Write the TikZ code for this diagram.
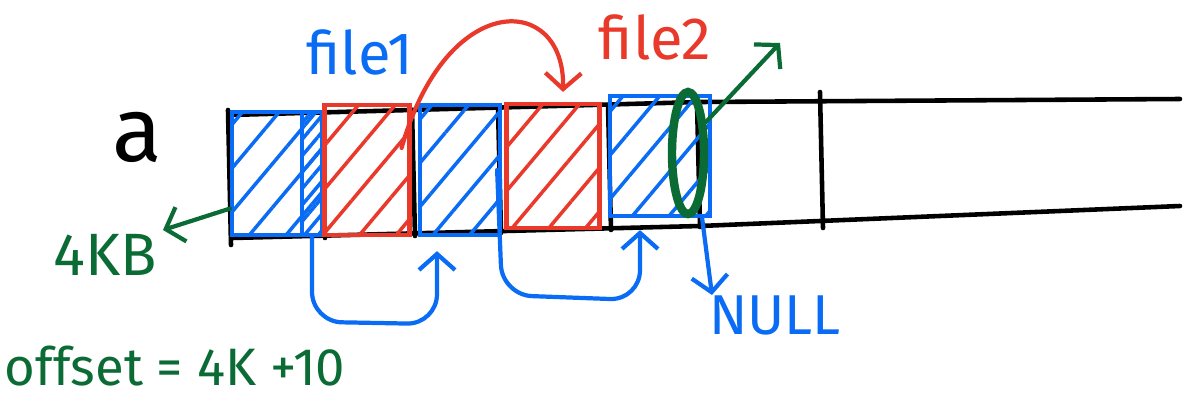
\documentclass[tikz,border=0pt]{standalone}
\usepackage{fontspec}
\setmainfont{Fira Sans}
\usetikzlibrary{arrows.meta,calc,patterns.meta,shapes.geometric}
\definecolor{Ink}{HTML}{000000}
\definecolor{Blue}{HTML}{0A6CF5}
\definecolor{Red}{HTML}{E8392B}
\definecolor{Green}{HTML}{0B6B35}

\begin{document}
\begin{tikzpicture}[
      blk/.style={draw=Blue,line width=1.2pt,inner sep=0pt,
        pattern={Lines[angle=50,distance=8pt,line width=1pt]},pattern color=Blue},
      redblk/.style={blk,draw=Red,pattern color=Red},
      link/.style={-{Straight Barb[length=1.6mm,width=3.6mm]},line width=1.2pt,
        line cap=round,line join=round},
      hand/.style={inner sep=0pt,font=\fontsize{17}{20}\selectfont}
    ]
      \useasboundingbox (0,0) rectangle (12.03,-4.01);
      % the disk strip
      \draw[Ink,line width=1.3pt,line cap=round]
        (2.30,-1.15) -- (7.00,-1.02) -- (11.80,-0.99);
      \draw[Ink,line width=1.3pt,line cap=round]
        (2.32,-2.38) -- (7.00,-2.26) -- (11.80,-2.06);
      \foreach \x/\t/\b in {2.28/-1.10/-2.45, 3.22/-1.13/-2.38, 4.12/-1.10/-2.36,
          4.98/-1.07/-2.33, 6.08/-1.05/-2.30, 6.97/-1.02/-2.27, 8.20/-0.92/-2.28}
        \draw[Ink,line width=1.3pt,line cap=round] (\x,\t) -- (\x+0.03,\b);
      % blocks
      \node[blk,minimum width=0.90cm,minimum height=1.23cm] (blk1) at (2.77,-1.735) {};
      \node[blk,minimum width=0.20cm,minimum height=1.23cm,
        pattern={Lines[angle=50,distance=3pt,line width=1pt]}] (tail) at (3.12,-1.735) {};
      \node[redblk,minimum width=0.85cm,minimum height=1.30cm] (red1) at (3.67,-1.70) {};
      \node[blk,minimum width=0.80cm,minimum height=1.30cm] (blk2) at (4.60,-1.70) {};
      \node[redblk,minimum width=0.93cm,minimum height=1.24cm] (red2) at (5.53,-1.66) {};
      \node[blk,minimum width=1.00cm,minimum height=1.20cm] (blk3) at (6.60,-1.56) {};
      \node[ellipse,draw=Green,line width=2.4pt,minimum width=0.32cm,
        minimum height=1.22cm,inner sep=0pt] (ring) at (6.88,-1.53) {};
      % labels
      \node[hand,font=\fontsize{26}{30}\selectfont] (disk) at (1.37,-1.37) {a};
      \node[hand,text=Blue] (f1) at (3.60,-0.52) {file1};
      \node[hand,text=Red] (f2) at (6.55,-0.37) {file2};
      \node[hand,text=Green] (kb) at (1.05,-2.55) {4KB};
      \node[hand,text=Blue,font=\fontsize{16}{19}\selectfont] (null) at (7.75,-3.15) {NULL};
      \node[hand,text=Green,font=\fontsize{15}{18}\selectfont] (off) at (1.75,-3.66)
        {offset = 4K +10};
      \coordinate (kbtip) at (1.63,-2.30);
      \coordinate (out) at (7.80,-0.43);
      \coordinate (nulltip) at (7.12,-2.95);
      % links
      \draw[link,Blue,rounded corners=0.3cm] (tail.south) -- ++(0,-0.85)
        -- ($(blk2.south)+(-0.23,-0.87)$) -- ([xshift=-0.23cm,yshift=-0.14cm]blk2.south);
      \draw[link,Blue,rounded corners=0.3cm] ([xshift=-0.05cm]blk2.east) -- ++(0.05,-1.25)
        -- ($(blk3.south)+(-0.20,-0.82)$) -- ([xshift=-0.20cm,yshift=-0.12cm]blk3.south);
      \draw[link,Red] ([xshift=-0.1cm,yshift=-0.45cm]red1.north east)
        .. controls +(0.45,1.59) and +(0.02,0.99) .. ([xshift=0.1cm,yshift=0.1cm]red2.north);
      \draw[link,Green] ([yshift=-0.35cm]blk1.west) -- (kbtip);
      \draw[link,Green] (ring.60) -- (out);
      \draw[link,Blue] ([xshift=-0.1cm]blk3.south east) -- (nulltip);
    \end{tikzpicture}
\end{document}
